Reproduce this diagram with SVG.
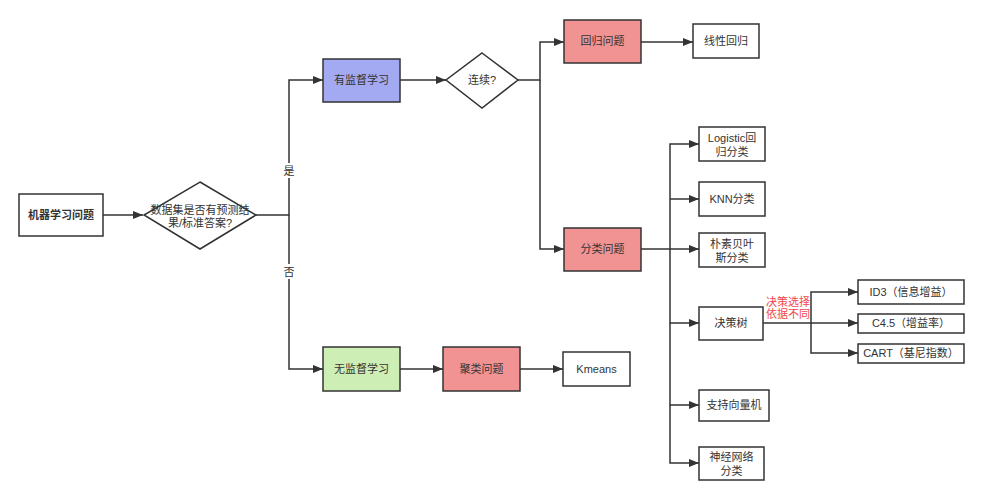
<svg xmlns="http://www.w3.org/2000/svg" width="983" height="500" viewBox="0 0 983 500">
<style>
.n{stroke:#333;stroke-width:1.5;fill:#fff}
.b{fill:#a4aaf2}.r{fill:#f19393}.g{fill:#cdeeb4}
text{font-family:"Liberation Sans","Noto Sans CJK SC",sans-serif;font-size:11px;fill:#333;text-anchor:middle}
.c path{fill:none;stroke:#333;stroke-width:1.5}
.lb{fill:#fff}
.red{fill:#f0474d}
</style>
<defs>
<marker id="a" viewBox="0 0 10 10" refX="10" refY="5" markerWidth="10" markerHeight="10" markerUnits="userSpaceOnUse" orient="auto">
<path d="M0,1 L10,5 L0,9 Z" fill="#333"/>
</marker>
</defs>
<rect width="983" height="500" fill="#fff"/>
<g class="c">
<path d="M103,215 H143" marker-end="url(#a)"/>
<path d="M256,215 H289 V80 H323" marker-end="url(#a)"/>
<path d="M289,215 V369 H323" marker-end="url(#a)"/>
<path d="M400,80 H446" marker-end="url(#a)"/>
<path d="M518,80 H540 V42 H564" marker-end="url(#a)"/>
<path d="M540,80 V249 H564" marker-end="url(#a)"/>
<path d="M641,42 H693" marker-end="url(#a)"/>
<path d="M641,249 H699" marker-end="url(#a)"/>
<path d="M670,249 V144 H699" marker-end="url(#a)"/>
<path d="M670,199 H699" marker-end="url(#a)"/>
<path d="M670,249 V323 H699" marker-end="url(#a)"/>
<path d="M670,323 V405 H699" marker-end="url(#a)"/>
<path d="M670,405 V463 H699" marker-end="url(#a)"/>
<path d="M763,323 H858" marker-end="url(#a)"/>
<path d="M811,323 V292 H858" marker-end="url(#a)"/>
<path d="M811,323 V353 H858" marker-end="url(#a)"/>
<path d="M400,369 H443" marker-end="url(#a)"/>
<path d="M520,369 H563" marker-end="url(#a)"/>
<rect class="lb" x="283" y="163" width="12" height="15"/>
<text x="289" y="175">是</text>
<rect class="lb" x="283" y="264" width="12" height="15"/>
<text x="289" y="276">否</text>
<text class="red" x="788" y="306">决策选择</text>
<text class="red" x="788" y="318">依据不同</text>
</g>
<g id="ml"><rect class="n" x="19" y="194" width="84" height="42"/><text x="61" y="219" font-weight="bold">机器学习问题</text></g>
<g id="q1"><path class="n" d="M200,182 L256,215 L200,249 L144,215 Z"/><text x="200" y="214">数据集是否有预测结</text><text x="200" y="227">果/标准答案?</text></g>
<g id="sup"><rect class="n b" x="323" y="59" width="77" height="43"/><text x="361.5" y="84">有监督学习</text></g>
<g id="q2"><path class="n" d="M482,53 L518,80 L482,108 L446,80 Z"/><text x="482" y="84">连续?</text></g>
<g id="reg"><rect class="n r" x="564" y="20" width="77" height="43"/><text x="602.5" y="45">回归问题</text></g>
<g id="lin"><rect class="n" x="693" y="24" width="66" height="34"/><text x="726" y="45">线性回归</text></g>
<g id="cls"><rect class="n r" x="564" y="228" width="77" height="43"/><text x="602.5" y="253">分类问题</text></g>
<g id="log"><rect class="n" x="699" y="127" width="66" height="34"/><text x="732" y="142">Logistic回</text><text x="732" y="156">归分类</text></g>
<g id="knn"><rect class="n" x="699" y="182" width="66" height="34"/><text x="732" y="203">KNN分类</text></g>
<g id="nb"><rect class="n" x="699" y="233" width="66" height="34"/><text x="732" y="248">朴素贝叶</text><text x="732" y="262">斯分类</text></g>
<g id="dt"><rect class="n" x="699" y="307" width="64" height="33"/><text x="731" y="327">决策树</text></g>
<g id="id3"><rect class="n" x="858" y="280" width="106" height="24"/><text x="911" y="296">ID3（信息增益）</text></g>
<g id="c45"><rect class="n" x="858" y="314" width="106" height="19"/><text x="911" y="327">C4.5（增益率）</text></g>
<g id="cart"><rect class="n" x="858" y="344" width="106" height="19"/><text x="911" y="357">CART（基尼指数）</text></g>
<g id="svm"><rect class="n" x="699" y="390" width="70" height="31"/><text x="734" y="409">支持向量机</text></g>
<g id="nn"><rect class="n" x="699" y="447" width="65" height="33"/><text x="731.5" y="461">神经网络</text><text x="731.5" y="475">分类</text></g>
<g id="unsup"><rect class="n g" x="323" y="347" width="77" height="44"/><text x="361.5" y="373">无监督学习</text></g>
<g id="clu"><rect class="n r" x="443" y="347" width="77" height="44"/><text x="481.5" y="373">聚类问题</text></g>
<g id="km"><rect class="n" x="563" y="352" width="67" height="34"/><text x="596.5" y="373">Kmeans</text></g>
</svg>
